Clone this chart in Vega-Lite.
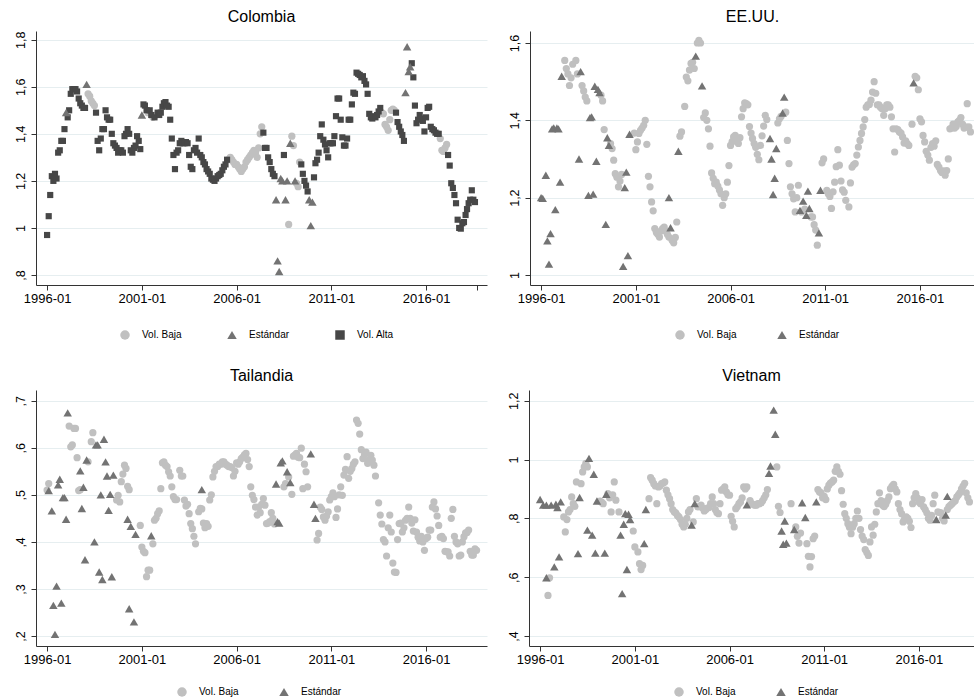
{
"$schema":"https://vega.github.io/schema/vega-lite/v6.json",
"background":"white",
"padding":{"left":14,"top":9,"right":0,"bottom":0},
"config":{
 "view":{"stroke":null},
 "font":"Liberation Sans",
 "title":{"fontSize":16,"fontWeight":"normal","color":"#000000","offset":6,"anchor":"middle","font":"Liberation Sans"},
 "axis":{"domainColor":"#333333","tickColor":"#333333","labelColor":"#000000","labelFont":"Liberation Sans","tickSize":5,"gridColor":"#e6eef0","gridWidth":1},
 "axisX":{"grid":false,"labelFontSize":13,"labelPadding":2,"labelOverlap":false,"labelFlush":false},
 "axisY":{"grid":true,"labelAngle":-90,"labelAlign":"center","labelBaseline":"bottom","labelPadding":4,"labelFontSize":12.5}
},
"datasets":{
"col":[
{"mes":"1996-01","valor":0.97,"tipo":"Vol. Alta"},{"mes":"1996-02","valor":1.05,"tipo":"Vol. Alta"},{"mes":"1996-03","valor":1.14,"tipo":"Vol. Alta"},{"mes":"1996-04","valor":1.22,"tipo":"Vol. Alta"},{"mes":"1996-05","valor":1.20,"tipo":"Vol. Alta"},{"mes":"1996-06","valor":1.23,"tipo":"Vol. Alta"},{"mes":"1996-07","valor":1.21,"tipo":"Vol. Alta"},{"mes":"1996-08","valor":1.32,"tipo":"Vol. Alta"},{"mes":"1996-09","valor":1.33,"tipo":"Vol. Alta"},{"mes":"1996-10","valor":1.37,"tipo":"Vol. Alta"},{"mes":"1996-11","valor":1.37,"tipo":"Vol. Alta"},{"mes":"1996-12","valor":1.42,"tipo":"Vol. Alta"},
{"mes":"1997-01","valor":1.49,"tipo":"Estándar"},{"mes":"1997-02","valor":1.47,"tipo":"Vol. Alta"},{"mes":"1997-03","valor":1.50,"tipo":"Vol. Alta"},{"mes":"1997-04","valor":1.57,"tipo":"Vol. Alta"},{"mes":"1997-05","valor":1.59,"tipo":"Vol. Alta"},{"mes":"1997-06","valor":1.59,"tipo":"Vol. Alta"},{"mes":"1997-07","valor":1.59,"tipo":"Vol. Alta"},{"mes":"1997-08","valor":1.58,"tipo":"Vol. Alta"},{"mes":"1997-09","valor":1.55,"tipo":"Vol. Alta"},{"mes":"1997-10","valor":1.53,"tipo":"Vol. Alta"},{"mes":"1997-11","valor":1.52,"tipo":"Vol. Alta"},{"mes":"1997-12","valor":1.51,"tipo":"Vol. Alta"},
{"mes":"1998-01","valor":1.51,"tipo":"Vol. Alta"},{"mes":"1998-02","valor":1.61,"tipo":"Estándar"},{"mes":"1998-03","valor":1.57,"tipo":"Vol. Baja"},{"mes":"1998-04","valor":1.56,"tipo":"Vol. Baja"},{"mes":"1998-05","valor":1.54,"tipo":"Vol. Baja"},{"mes":"1998-06","valor":1.53,"tipo":"Vol. Baja"},{"mes":"1998-07","valor":1.52,"tipo":"Vol. Baja"},{"mes":"1998-08","valor":1.49,"tipo":"Vol. Alta"},{"mes":"1998-09","valor":1.37,"tipo":"Vol. Alta"},{"mes":"1998-10","valor":1.33,"tipo":"Vol. Alta"},{"mes":"1998-11","valor":1.38,"tipo":"Vol. Alta"},{"mes":"1998-12","valor":1.42,"tipo":"Vol. Alta"},
{"mes":"1999-01","valor":1.42,"tipo":"Vol. Alta"},{"mes":"1999-02","valor":1.50,"tipo":"Vol. Alta"},{"mes":"1999-03","valor":1.47,"tipo":"Vol. Alta"},{"mes":"1999-04","valor":1.46,"tipo":"Vol. Alta"},{"mes":"1999-05","valor":1.46,"tipo":"Vol. Alta"},{"mes":"1999-06","valor":1.40,"tipo":"Vol. Alta"},{"mes":"1999-07","valor":1.36,"tipo":"Vol. Alta"},{"mes":"1999-08","valor":1.35,"tipo":"Vol. Alta"},{"mes":"1999-09","valor":1.34,"tipo":"Vol. Alta"},{"mes":"1999-10","valor":1.32,"tipo":"Vol. Alta"},{"mes":"1999-11","valor":1.33,"tipo":"Vol. Alta"},{"mes":"1999-12","valor":1.33,"tipo":"Vol. Alta"},
{"mes":"2000-01","valor":1.32,"tipo":"Vol. Alta"},{"mes":"2000-02","valor":1.39,"tipo":"Vol. Alta"},{"mes":"2000-03","valor":1.40,"tipo":"Vol. Alta"},{"mes":"2000-04","valor":1.42,"tipo":"Vol. Alta"},{"mes":"2000-05","valor":1.40,"tipo":"Vol. Alta"},{"mes":"2000-06","valor":1.33,"tipo":"Vol. Alta"},{"mes":"2000-07","valor":1.32,"tipo":"Vol. Alta"},{"mes":"2000-08","valor":1.34,"tipo":"Vol. Alta"},{"mes":"2000-09","valor":1.35,"tipo":"Vol. Alta"},{"mes":"2000-10","valor":1.39,"tipo":"Vol. Alta"},{"mes":"2000-11","valor":1.37,"tipo":"Vol. Alta"},{"mes":"2000-12","valor":1.335,"tipo":"Vol. Alta"},
{"mes":"2001-01","valor":1.48,"tipo":"Estándar"},{"mes":"2001-02","valor":1.525,"tipo":"Vol. Alta"},{"mes":"2001-03","valor":1.52,"tipo":"Vol. Alta"},{"mes":"2001-04","valor":1.50,"tipo":"Vol. Alta"},{"mes":"2001-05","valor":1.49,"tipo":"Vol. Baja"},{"mes":"2001-06","valor":1.50,"tipo":"Vol. Alta"},{"mes":"2001-07","valor":1.48,"tipo":"Vol. Alta"},{"mes":"2001-08","valor":1.47,"tipo":"Vol. Baja"},{"mes":"2001-09","valor":1.47,"tipo":"Vol. Alta"},{"mes":"2001-10","valor":1.48,"tipo":"Vol. Baja"},{"mes":"2001-11","valor":1.49,"tipo":"Vol. Alta"},{"mes":"2001-12","valor":1.48,"tipo":"Vol. Alta"},
{"mes":"2002-01","valor":1.49,"tipo":"Vol. Alta"},{"mes":"2002-02","valor":1.515,"tipo":"Vol. Alta"},{"mes":"2002-03","valor":1.53,"tipo":"Vol. Alta"},{"mes":"2002-04","valor":1.535,"tipo":"Vol. Alta"},{"mes":"2002-05","valor":1.52,"tipo":"Vol. Alta"},{"mes":"2002-06","valor":1.515,"tipo":"Vol. Alta"},{"mes":"2002-07","valor":1.46,"tipo":"Vol. Alta"},{"mes":"2002-08","valor":1.38,"tipo":"Vol. Alta"},{"mes":"2002-09","valor":1.31,"tipo":"Vol. Alta"},{"mes":"2002-10","valor":1.25,"tipo":"Vol. Alta"},{"mes":"2002-11","valor":1.32,"tipo":"Vol. Alta"},{"mes":"2002-12","valor":1.33,"tipo":"Vol. Alta"},
{"mes":"2003-01","valor":1.36,"tipo":"Vol. Alta"},{"mes":"2003-02","valor":1.37,"tipo":"Vol. Alta"},{"mes":"2003-03","valor":1.36,"tipo":"Vol. Alta"},{"mes":"2003-04","valor":1.36,"tipo":"Vol. Alta"},{"mes":"2003-05","valor":1.365,"tipo":"Vol. Alta"},{"mes":"2003-06","valor":1.36,"tipo":"Vol. Alta"},{"mes":"2003-07","valor":1.31,"tipo":"Vol. Alta"},{"mes":"2003-08","valor":1.26,"tipo":"Vol. Alta"},{"mes":"2003-09","valor":1.25,"tipo":"Vol. Alta"},{"mes":"2003-10","valor":1.33,"tipo":"Vol. Alta"},{"mes":"2003-11","valor":1.34,"tipo":"Vol. Alta"},{"mes":"2003-12","valor":1.32,"tipo":"Vol. Alta"},
{"mes":"2004-01","valor":1.38,"tipo":"Vol. Alta"},{"mes":"2004-02","valor":1.31,"tipo":"Vol. Alta"},{"mes":"2004-03","valor":1.30,"tipo":"Vol. Alta"},{"mes":"2004-04","valor":1.28,"tipo":"Vol. Alta"},{"mes":"2004-05","valor":1.27,"tipo":"Vol. Alta"},{"mes":"2004-06","valor":1.25,"tipo":"Vol. Alta"},{"mes":"2004-07","valor":1.24,"tipo":"Vol. Alta"},{"mes":"2004-08","valor":1.23,"tipo":"Vol. Alta"},{"mes":"2004-09","valor":1.21,"tipo":"Vol. Alta"},{"mes":"2004-10","valor":1.205,"tipo":"Vol. Alta"},{"mes":"2004-11","valor":1.20,"tipo":"Vol. Alta"},{"mes":"2004-12","valor":1.21,"tipo":"Vol. Alta"},
{"mes":"2005-01","valor":1.22,"tipo":"Vol. Alta"},{"mes":"2005-02","valor":1.225,"tipo":"Vol. Alta"},{"mes":"2005-03","valor":1.23,"tipo":"Vol. Alta"},{"mes":"2005-04","valor":1.245,"tipo":"Vol. Alta"},{"mes":"2005-05","valor":1.26,"tipo":"Vol. Alta"},{"mes":"2005-06","valor":1.27,"tipo":"Vol. Alta"},{"mes":"2005-07","valor":1.29,"tipo":"Vol. Alta"},{"mes":"2005-08","valor":1.29,"tipo":"Vol. Baja"},{"mes":"2005-09","valor":1.30,"tipo":"Vol. Baja"},{"mes":"2005-10","valor":1.29,"tipo":"Vol. Baja"},{"mes":"2005-11","valor":1.28,"tipo":"Vol. Baja"},{"mes":"2005-12","valor":1.27,"tipo":"Vol. Baja"},
{"mes":"2006-01","valor":1.27,"tipo":"Vol. Baja"},{"mes":"2006-02","valor":1.26,"tipo":"Vol. Baja"},{"mes":"2006-03","valor":1.25,"tipo":"Vol. Baja"},{"mes":"2006-04","valor":1.24,"tipo":"Vol. Baja"},{"mes":"2006-05","valor":1.25,"tipo":"Vol. Baja"},{"mes":"2006-06","valor":1.26,"tipo":"Vol. Baja"},{"mes":"2006-07","valor":1.28,"tipo":"Vol. Baja"},{"mes":"2006-08","valor":1.29,"tipo":"Vol. Baja"},{"mes":"2006-09","valor":1.30,"tipo":"Vol. Baja"},{"mes":"2006-10","valor":1.31,"tipo":"Vol. Baja"},{"mes":"2006-11","valor":1.32,"tipo":"Vol. Baja"},{"mes":"2006-12","valor":1.33,"tipo":"Vol. Baja"},
{"mes":"2007-01","valor":1.32,"tipo":"Vol. Baja"},{"mes":"2007-02","valor":1.30,"tipo":"Vol. Baja"},{"mes":"2007-03","valor":1.34,"tipo":"Vol. Baja"},{"mes":"2007-04","valor":1.40,"tipo":"Vol. Baja"},{"mes":"2007-05","valor":1.43,"tipo":"Vol. Baja"},{"mes":"2007-06","valor":1.405,"tipo":"Vol. Alta"},{"mes":"2007-07","valor":1.34,"tipo":"Vol. Alta"},{"mes":"2007-08","valor":1.34,"tipo":"Vol. Alta"},{"mes":"2007-09","valor":1.30,"tipo":"Vol. Alta"},{"mes":"2007-10","valor":1.28,"tipo":"Vol. Alta"},{"mes":"2007-11","valor":1.25,"tipo":"Vol. Alta"},{"mes":"2007-12","valor":1.23,"tipo":"Vol. Alta"},
{"mes":"2008-01","valor":1.22,"tipo":"Vol. Alta"},{"mes":"2008-02","valor":1.12,"tipo":"Estándar"},{"mes":"2008-03","valor":0.86,"tipo":"Estándar"},{"mes":"2008-04","valor":0.815,"tipo":"Estándar"},{"mes":"2008-05","valor":1.21,"tipo":"Estándar"},{"mes":"2008-06","valor":1.20,"tipo":"Estándar"},{"mes":"2008-07","valor":1.31,"tipo":"Vol. Alta"},{"mes":"2008-08","valor":1.12,"tipo":"Estándar"},{"mes":"2008-09","valor":1.20,"tipo":"Estándar"},{"mes":"2008-10","valor":1.015,"tipo":"Vol. Baja"},{"mes":"2008-11","valor":1.36,"tipo":"Estándar"},{"mes":"2008-12","valor":1.39,"tipo":"Vol. Baja"},
{"mes":"2009-01","valor":1.35,"tipo":"Vol. Baja"},{"mes":"2009-02","valor":1.20,"tipo":"Estándar"},{"mes":"2009-03","valor":1.19,"tipo":"Vol. Baja"},{"mes":"2009-04","valor":1.175,"tipo":"Vol. Baja"},{"mes":"2009-05","valor":1.28,"tipo":"Vol. Baja"},{"mes":"2009-06","valor":1.27,"tipo":"Vol. Alta"},{"mes":"2009-07","valor":1.23,"tipo":"Vol. Alta"},{"mes":"2009-08","valor":1.20,"tipo":"Vol. Alta"},{"mes":"2009-09","valor":1.18,"tipo":"Vol. Alta"},{"mes":"2009-10","valor":1.155,"tipo":"Vol. Alta"},{"mes":"2009-11","valor":1.12,"tipo":"Estándar"},{"mes":"2009-12","valor":1.01,"tipo":"Estándar"},
{"mes":"2010-01","valor":1.11,"tipo":"Estándar"},{"mes":"2010-02","valor":1.215,"tipo":"Vol. Alta"},{"mes":"2010-03","valor":1.275,"tipo":"Vol. Alta"},{"mes":"2010-04","valor":1.29,"tipo":"Vol. Alta"},{"mes":"2010-05","valor":1.32,"tipo":"Vol. Alta"},{"mes":"2010-06","valor":1.39,"tipo":"Vol. Alta"},{"mes":"2010-07","valor":1.44,"tipo":"Vol. Alta"},{"mes":"2010-08","valor":1.375,"tipo":"Vol. Alta"},{"mes":"2010-09","valor":1.355,"tipo":"Vol. Alta"},{"mes":"2010-10","valor":1.33,"tipo":"Vol. Alta"},{"mes":"2010-11","valor":1.30,"tipo":"Vol. Alta"},{"mes":"2010-12","valor":1.36,"tipo":"Vol. Alta"},
{"mes":"2011-01","valor":1.36,"tipo":"Vol. Alta"},{"mes":"2011-02","valor":1.36,"tipo":"Vol. Alta"},{"mes":"2011-03","valor":1.39,"tipo":"Vol. Alta"},{"mes":"2011-04","valor":1.475,"tipo":"Vol. Alta"},{"mes":"2011-05","valor":1.55,"tipo":"Vol. Alta"},{"mes":"2011-06","valor":1.55,"tipo":"Vol. Alta"},{"mes":"2011-07","valor":1.46,"tipo":"Vol. Alta"},{"mes":"2011-08","valor":1.385,"tipo":"Vol. Alta"},{"mes":"2011-09","valor":1.35,"tipo":"Vol. Alta"},{"mes":"2011-10","valor":1.35,"tipo":"Vol. Alta"},{"mes":"2011-11","valor":1.38,"tipo":"Vol. Alta"},{"mes":"2011-12","valor":1.46,"tipo":"Vol. Alta"},
{"mes":"2012-01","valor":1.46,"tipo":"Vol. Alta"},{"mes":"2012-02","valor":1.525,"tipo":"Vol. Alta"},{"mes":"2012-03","valor":1.575,"tipo":"Vol. Alta"},{"mes":"2012-04","valor":1.57,"tipo":"Vol. Alta"},{"mes":"2012-05","valor":1.66,"tipo":"Vol. Alta"},{"mes":"2012-06","valor":1.655,"tipo":"Vol. Alta"},{"mes":"2012-07","valor":1.65,"tipo":"Vol. Alta"},{"mes":"2012-08","valor":1.64,"tipo":"Vol. Alta"},{"mes":"2012-09","valor":1.645,"tipo":"Vol. Alta"},{"mes":"2012-10","valor":1.625,"tipo":"Vol. Alta"},{"mes":"2012-11","valor":1.61,"tipo":"Vol. Alta"},{"mes":"2012-12","valor":1.57,"tipo":"Vol. Alta"},
{"mes":"2013-01","valor":1.485,"tipo":"Vol. Alta"},{"mes":"2013-02","valor":1.47,"tipo":"Vol. Alta"},{"mes":"2013-03","valor":1.465,"tipo":"Vol. Alta"},{"mes":"2013-04","valor":1.475,"tipo":"Vol. Alta"},{"mes":"2013-05","valor":1.47,"tipo":"Vol. Alta"},{"mes":"2013-06","valor":1.48,"tipo":"Vol. Alta"},{"mes":"2013-07","valor":1.495,"tipo":"Vol. Alta"},{"mes":"2013-08","valor":1.51,"tipo":"Vol. Alta"},{"mes":"2013-09","valor":1.49,"tipo":"Vol. Baja"},{"mes":"2013-10","valor":1.485,"tipo":"Vol. Baja"},{"mes":"2013-11","valor":1.44,"tipo":"Vol. Baja"},{"mes":"2013-12","valor":1.43,"tipo":"Vol. Baja"},
{"mes":"2014-01","valor":1.415,"tipo":"Vol. Baja"},{"mes":"2014-02","valor":1.46,"tipo":"Vol. Baja"},{"mes":"2014-03","valor":1.50,"tipo":"Vol. Baja"},{"mes":"2014-04","valor":1.505,"tipo":"Vol. Baja"},{"mes":"2014-05","valor":1.50,"tipo":"Vol. Baja"},{"mes":"2014-06","valor":1.49,"tipo":"Vol. Alta"},{"mes":"2014-07","valor":1.45,"tipo":"Vol. Alta"},{"mes":"2014-08","valor":1.43,"tipo":"Vol. Alta"},{"mes":"2014-09","valor":1.41,"tipo":"Vol. Alta"},{"mes":"2014-10","valor":1.395,"tipo":"Vol. Alta"},{"mes":"2014-11","valor":1.37,"tipo":"Vol. Alta"},{"mes":"2014-12","valor":1.575,"tipo":"Estándar"},
{"mes":"2015-01","valor":1.77,"tipo":"Estándar"},{"mes":"2015-02","valor":1.665,"tipo":"Estándar"},{"mes":"2015-03","valor":1.685,"tipo":"Estándar"},{"mes":"2015-04","valor":1.70,"tipo":"Vol. Alta"},{"mes":"2015-05","valor":1.64,"tipo":"Vol. Alta"},{"mes":"2015-06","valor":1.52,"tipo":"Vol. Alta"},{"mes":"2015-07","valor":1.445,"tipo":"Vol. Alta"},{"mes":"2015-08","valor":1.46,"tipo":"Vol. Alta"},{"mes":"2015-09","valor":1.48,"tipo":"Vol. Alta"},{"mes":"2015-10","valor":1.465,"tipo":"Vol. Alta"},{"mes":"2015-11","valor":1.455,"tipo":"Vol. Alta"},{"mes":"2015-12","valor":1.41,"tipo":"Vol. Alta"},
{"mes":"2016-01","valor":1.47,"tipo":"Vol. Alta"},{"mes":"2016-02","valor":1.51,"tipo":"Vol. Alta"},{"mes":"2016-03","valor":1.515,"tipo":"Vol. Alta"},{"mes":"2016-04","valor":1.43,"tipo":"Vol. Alta"},{"mes":"2016-05","valor":1.42,"tipo":"Vol. Alta"},{"mes":"2016-06","valor":1.415,"tipo":"Vol. Alta"},{"mes":"2016-07","valor":1.405,"tipo":"Vol. Alta"},{"mes":"2016-08","valor":1.40,"tipo":"Vol. Alta"},{"mes":"2016-09","valor":1.40,"tipo":"Vol. Alta"},{"mes":"2016-10","valor":1.38,"tipo":"Vol. Baja"},{"mes":"2016-11","valor":1.33,"tipo":"Vol. Baja"},{"mes":"2016-12","valor":1.325,"tipo":"Vol. Baja"},
{"mes":"2017-01","valor":1.34,"tipo":"Vol. Baja"},{"mes":"2017-02","valor":1.355,"tipo":"Vol. Baja"},{"mes":"2017-03","valor":1.31,"tipo":"Vol. Alta"},{"mes":"2017-04","valor":1.265,"tipo":"Vol. Alta"},{"mes":"2017-05","valor":1.19,"tipo":"Vol. Alta"},{"mes":"2017-06","valor":1.17,"tipo":"Vol. Alta"},{"mes":"2017-07","valor":1.14,"tipo":"Vol. Alta"},{"mes":"2017-08","valor":1.105,"tipo":"Vol. Alta"},{"mes":"2017-09","valor":1.035,"tipo":"Vol. Alta"},{"mes":"2017-10","valor":1.00,"tipo":"Vol. Alta"},{"mes":"2017-11","valor":0.997,"tipo":"Vol. Alta"},{"mes":"2017-12","valor":1.02,"tipo":"Vol. Alta"},
{"mes":"2018-01","valor":1.025,"tipo":"Vol. Alta"},{"mes":"2018-02","valor":1.055,"tipo":"Vol. Alta"},{"mes":"2018-03","valor":1.08,"tipo":"Vol. Alta"},{"mes":"2018-04","valor":1.105,"tipo":"Vol. Alta"},{"mes":"2018-05","valor":1.12,"tipo":"Vol. Alta"},{"mes":"2018-06","valor":1.16,"tipo":"Vol. Alta"},{"mes":"2018-07","valor":1.12,"tipo":"Vol. Alta"},{"mes":"2018-08","valor":1.11,"tipo":"Vol. Alta"}
],
"usa":[
{"mes":"1996-01","valor":1.20,"tipo":"Estándar"},{"mes":"1996-02","valor":1.198,"tipo":"Estándar"},{"mes":"1996-04","valor":1.258,"tipo":"Estándar"},{"mes":"1996-05","valor":1.088,"tipo":"Estándar"},{"mes":"1996-06","valor":1.028,"tipo":"Estándar"},{"mes":"1996-07","valor":1.107,"tipo":"Estándar"},{"mes":"1996-08","valor":1.378,"tipo":"Estándar"},{"mes":"1996-09","valor":1.38,"tipo":"Estándar"},{"mes":"1996-10","valor":1.169,"tipo":"Estándar"},{"mes":"1996-11","valor":1.38,"tipo":"Estándar"},{"mes":"1996-12","valor":1.378,"tipo":"Estándar"},
{"mes":"1997-01","valor":1.24,"tipo":"Estándar"},{"mes":"1997-02","valor":1.514,"tipo":"Estándar"},{"mes":"1997-04","valor":1.555,"tipo":"Vol. Baja"},{"mes":"1997-05","valor":1.534,"tipo":"Vol. Baja"},{"mes":"1997-06","valor":1.52,"tipo":"Vol. Baja"},{"mes":"1997-07","valor":1.49,"tipo":"Vol. Baja"},{"mes":"1997-08","valor":1.51,"tipo":"Vol. Baja"},{"mes":"1997-09","valor":1.545,"tipo":"Vol. Baja"},{"mes":"1997-11","valor":1.555,"tipo":"Vol. Baja"},{"mes":"1997-12","valor":1.52,"tipo":"Vol. Baja"},
{"mes":"1998-01","valor":1.30,"tipo":"Estándar"},{"mes":"1998-02","valor":1.526,"tipo":"Estándar"},{"mes":"1998-03","valor":1.49,"tipo":"Vol. Baja"},{"mes":"1998-04","valor":1.476,"tipo":"Vol. Baja"},{"mes":"1998-05","valor":1.46,"tipo":"Vol. Baja"},{"mes":"1998-06","valor":1.45,"tipo":"Vol. Baja"},{"mes":"1998-07","valor":1.206,"tipo":"Estándar"},{"mes":"1998-08","valor":1.407,"tipo":"Estándar"},{"mes":"1998-09","valor":1.409,"tipo":"Estándar"},{"mes":"1998-10","valor":1.209,"tipo":"Estándar"},{"mes":"1998-11","valor":1.488,"tipo":"Estándar"},{"mes":"1998-12","valor":1.294,"tipo":"Estándar"},
{"mes":"1999-01","valor":1.48,"tipo":"Estándar"},{"mes":"1999-02","valor":1.472,"tipo":"Estándar"},{"mes":"1999-03","valor":1.465,"tipo":"Vol. Baja"},{"mes":"1999-04","valor":1.45,"tipo":"Vol. Baja"},{"mes":"1999-05","valor":1.376,"tipo":"Vol. Baja"},{"mes":"1999-06","valor":1.131,"tipo":"Estándar"},{"mes":"1999-07","valor":1.355,"tipo":"Estándar"},{"mes":"1999-08","valor":1.335,"tipo":"Estándar"},{"mes":"1999-09","valor":1.34,"tipo":"Vol. Baja"},{"mes":"1999-10","valor":1.327,"tipo":"Vol. Baja"},{"mes":"1999-11","valor":1.297,"tipo":"Vol. Baja"},{"mes":"1999-12","valor":1.262,"tipo":"Vol. Baja"},
{"mes":"2000-01","valor":1.253,"tipo":"Vol. Baja"},{"mes":"2000-02","valor":1.228,"tipo":"Vol. Baja"},{"mes":"2000-03","valor":1.243,"tipo":"Vol. Baja"},{"mes":"2000-04","valor":1.26,"tipo":"Vol. Baja"},{"mes":"2000-05","valor":1.022,"tipo":"Estándar"},{"mes":"2000-06","valor":1.226,"tipo":"Estándar"},{"mes":"2000-07","valor":1.266,"tipo":"Estándar"},{"mes":"2000-08","valor":1.05,"tipo":"Estándar"},{"mes":"2000-09","valor":1.364,"tipo":"Estándar"},{"mes":"2000-12","valor":1.367,"tipo":"Vol. Baja"},
{"mes":"2001-01","valor":1.324,"tipo":"Vol. Baja"},{"mes":"2001-02","valor":1.344,"tipo":"Vol. Baja"},{"mes":"2001-03","valor":1.366,"tipo":"Vol. Baja"},{"mes":"2001-04","valor":1.374,"tipo":"Vol. Baja"},{"mes":"2001-05","valor":1.38,"tipo":"Vol. Baja"},{"mes":"2001-06","valor":1.387,"tipo":"Vol. Baja"},{"mes":"2001-07","valor":1.40,"tipo":"Vol. Baja"},{"mes":"2001-08","valor":1.338,"tipo":"Vol. Baja"},{"mes":"2001-09","valor":1.255,"tipo":"Vol. Baja"},{"mes":"2001-10","valor":1.228,"tipo":"Vol. Baja"},{"mes":"2001-11","valor":1.189,"tipo":"Vol. Baja"},{"mes":"2001-12","valor":1.166,"tipo":"Vol. Baja"},
{"mes":"2002-01","valor":1.12,"tipo":"Vol. Baja"},{"mes":"2002-02","valor":1.11,"tipo":"Vol. Baja"},{"mes":"2002-03","valor":1.105,"tipo":"Vol. Baja"},{"mes":"2002-04","valor":1.098,"tipo":"Vol. Baja"},{"mes":"2002-05","valor":1.114,"tipo":"Vol. Baja"},{"mes":"2002-06","valor":1.12,"tipo":"Vol. Baja"},{"mes":"2002-07","valor":1.124,"tipo":"Vol. Baja"},{"mes":"2002-08","valor":1.114,"tipo":"Vol. Baja"},{"mes":"2002-09","valor":1.105,"tipo":"Vol. Baja"},{"mes":"2002-10","valor":1.20,"tipo":"Estándar"},{"mes":"2002-10","valor":1.098,"tipo":"Vol. Baja"},{"mes":"2002-11","valor":1.122,"tipo":"Estándar"},{"mes":"2002-12","valor":1.09,"tipo":"Vol. Baja"},
{"mes":"2003-01","valor":1.083,"tipo":"Vol. Baja"},{"mes":"2003-02","valor":1.097,"tipo":"Vol. Baja"},{"mes":"2003-03","valor":1.137,"tipo":"Vol. Baja"},{"mes":"2003-04","valor":1.32,"tipo":"Estándar"},{"mes":"2003-05","valor":1.359,"tipo":"Vol. Baja"},{"mes":"2003-06","valor":1.37,"tipo":"Vol. Baja"},{"mes":"2003-08","valor":1.436,"tipo":"Vol. Baja"},{"mes":"2003-09","valor":1.512,"tipo":"Vol. Baja"},{"mes":"2003-10","valor":1.502,"tipo":"Vol. Baja"},{"mes":"2003-11","valor":1.53,"tipo":"Vol. Baja"},{"mes":"2003-12","valor":1.547,"tipo":"Vol. Baja"},
{"mes":"2004-01","valor":1.55,"tipo":"Vol. Baja"},{"mes":"2004-02","valor":1.534,"tipo":"Vol. Baja"},{"mes":"2004-03","valor":1.566,"tipo":"Estándar"},{"mes":"2004-04","valor":1.60,"tipo":"Vol. Baja"},{"mes":"2004-05","valor":1.607,"tipo":"Vol. Baja"},{"mes":"2004-06","valor":1.60,"tipo":"Vol. Baja"},{"mes":"2004-07","valor":1.489,"tipo":"Estándar"},{"mes":"2004-08","valor":1.407,"tipo":"Vol. Baja"},{"mes":"2004-09","valor":1.419,"tipo":"Vol. Baja"},{"mes":"2004-10","valor":1.40,"tipo":"Vol. Baja"},{"mes":"2004-11","valor":1.378,"tipo":"Vol. Baja"},{"mes":"2004-12","valor":1.333,"tipo":"Vol. Baja"},
{"mes":"2005-01","valor":1.264,"tipo":"Vol. Baja"},{"mes":"2005-02","valor":1.25,"tipo":"Vol. Baja"},{"mes":"2005-03","valor":1.236,"tipo":"Vol. Baja"},{"mes":"2005-04","valor":1.24,"tipo":"Vol. Baja"},{"mes":"2005-05","valor":1.23,"tipo":"Vol. Baja"},{"mes":"2005-06","valor":1.22,"tipo":"Vol. Baja"},{"mes":"2005-07","valor":1.21,"tipo":"Vol. Baja"},{"mes":"2005-08","valor":1.18,"tipo":"Vol. Baja"},{"mes":"2005-09","valor":1.20,"tipo":"Vol. Baja"},{"mes":"2005-10","valor":1.21,"tipo":"Vol. Baja"},{"mes":"2005-11","valor":1.24,"tipo":"Vol. Baja"},{"mes":"2005-12","valor":1.283,"tipo":"Vol. Baja"},
{"mes":"2006-01","valor":1.335,"tipo":"Vol. Baja"},{"mes":"2006-02","valor":1.345,"tipo":"Vol. Baja"},{"mes":"2006-03","valor":1.357,"tipo":"Vol. Baja"},{"mes":"2006-04","valor":1.361,"tipo":"Vol. Baja"},{"mes":"2006-05","valor":1.345,"tipo":"Vol. Baja"},{"mes":"2006-06","valor":1.34,"tipo":"Vol. Baja"},{"mes":"2006-07","valor":1.355,"tipo":"Vol. Baja"},{"mes":"2006-08","valor":1.409,"tipo":"Vol. Baja"},{"mes":"2006-09","valor":1.43,"tipo":"Vol. Baja"},{"mes":"2006-10","valor":1.445,"tipo":"Vol. Baja"},{"mes":"2006-11","valor":1.443,"tipo":"Vol. Baja"},{"mes":"2006-12","valor":1.44,"tipo":"Vol. Baja"},
{"mes":"2007-01","valor":1.384,"tipo":"Vol. Baja"},{"mes":"2007-02","valor":1.367,"tipo":"Vol. Baja"},{"mes":"2007-03","valor":1.353,"tipo":"Vol. Baja"},{"mes":"2007-04","valor":1.34,"tipo":"Vol. Baja"},{"mes":"2007-05","valor":1.33,"tipo":"Vol. Baja"},{"mes":"2007-06","valor":1.312,"tipo":"Vol. Baja"},{"mes":"2007-07","valor":1.298,"tipo":"Vol. Baja"},{"mes":"2007-08","valor":1.335,"tipo":"Vol. Baja"},{"mes":"2007-09","valor":1.36,"tipo":"Vol. Baja"},{"mes":"2007-10","valor":1.385,"tipo":"Vol. Baja"},{"mes":"2007-11","valor":1.413,"tipo":"Vol. Baja"},{"mes":"2007-12","valor":1.402,"tipo":"Vol. Baja"},
{"mes":"2008-02","valor":1.353,"tipo":"Estándar"},{"mes":"2008-03","valor":1.30,"tipo":"Estándar"},{"mes":"2008-04","valor":1.208,"tipo":"Estándar"},{"mes":"2008-05","valor":1.25,"tipo":"Estándar"},{"mes":"2008-06","valor":1.327,"tipo":"Estándar"},{"mes":"2008-07","valor":1.393,"tipo":"Vol. Baja"},{"mes":"2008-08","valor":1.404,"tipo":"Vol. Baja"},{"mes":"2008-09","valor":1.41,"tipo":"Vol. Baja"},{"mes":"2008-10","valor":1.419,"tipo":"Estándar"},{"mes":"2008-11","valor":1.46,"tipo":"Estándar"},{"mes":"2008-12","valor":1.421,"tipo":"Vol. Baja"},
{"mes":"2009-01","valor":1.348,"tipo":"Vol. Baja"},{"mes":"2009-02","valor":1.288,"tipo":"Vol. Baja"},{"mes":"2009-03","valor":1.228,"tipo":"Vol. Baja"},{"mes":"2009-04","valor":1.21,"tipo":"Vol. Baja"},{"mes":"2009-05","valor":1.197,"tipo":"Vol. Baja"},{"mes":"2009-06","valor":1.163,"tipo":"Vol. Baja"},{"mes":"2009-07","valor":1.20,"tipo":"Vol. Baja"},{"mes":"2009-08","valor":1.232,"tipo":"Vol. Baja"},{"mes":"2009-09","valor":1.167,"tipo":"Estándar"},{"mes":"2009-10","valor":1.163,"tipo":"Vol. Baja"},{"mes":"2009-11","valor":1.191,"tipo":"Estándar"},{"mes":"2009-12","valor":1.17,"tipo":"Vol. Baja"},
{"mes":"2010-01","valor":1.154,"tipo":"Estándar"},{"mes":"2010-02","valor":1.217,"tipo":"Estándar"},{"mes":"2010-03","valor":1.172,"tipo":"Estándar"},{"mes":"2010-04","valor":1.15,"tipo":"Vol. Baja"},{"mes":"2010-05","valor":1.15,"tipo":"Vol. Baja"},{"mes":"2010-06","valor":1.13,"tipo":"Vol. Baja"},{"mes":"2010-07","valor":1.116,"tipo":"Vol. Baja"},{"mes":"2010-08","valor":1.077,"tipo":"Vol. Baja"},{"mes":"2010-09","valor":1.109,"tipo":"Estándar"},{"mes":"2010-10","valor":1.219,"tipo":"Estándar"},{"mes":"2010-11","valor":1.29,"tipo":"Vol. Baja"},{"mes":"2010-12","valor":1.30,"tipo":"Vol. Baja"},
{"mes":"2011-02","valor":1.219,"tipo":"Vol. Baja"},{"mes":"2011-03","valor":1.21,"tipo":"Vol. Baja"},{"mes":"2011-04","valor":1.203,"tipo":"Vol. Baja"},{"mes":"2011-05","valor":1.172,"tipo":"Vol. Baja"},{"mes":"2011-06","valor":1.215,"tipo":"Vol. Baja"},{"mes":"2011-07","valor":1.24,"tipo":"Vol. Baja"},{"mes":"2011-08","valor":1.28,"tipo":"Vol. Baja"},{"mes":"2011-09","valor":1.324,"tipo":"Vol. Baja"},{"mes":"2011-10","valor":1.284,"tipo":"Vol. Baja"},{"mes":"2011-11","valor":1.243,"tipo":"Vol. Baja"},{"mes":"2011-12","valor":1.22,"tipo":"Vol. Baja"},
{"mes":"2012-01","valor":1.214,"tipo":"Vol. Baja"},{"mes":"2012-02","valor":1.193,"tipo":"Vol. Baja"},{"mes":"2012-04","valor":1.176,"tipo":"Vol. Baja"},{"mes":"2012-05","valor":1.238,"tipo":"Vol. Baja"},{"mes":"2012-06","valor":1.279,"tipo":"Vol. Baja"},{"mes":"2012-07","valor":1.285,"tipo":"Vol. Baja"},{"mes":"2012-08","valor":1.288,"tipo":"Vol. Baja"},{"mes":"2012-09","valor":1.31,"tipo":"Vol. Baja"},{"mes":"2012-10","valor":1.331,"tipo":"Vol. Baja"},{"mes":"2012-11","valor":1.348,"tipo":"Vol. Baja"},{"mes":"2012-12","valor":1.366,"tipo":"Vol. Baja"},
{"mes":"2013-01","valor":1.383,"tipo":"Vol. Baja"},{"mes":"2013-02","valor":1.402,"tipo":"Vol. Baja"},{"mes":"2013-03","valor":1.434,"tipo":"Vol. Baja"},{"mes":"2013-04","valor":1.44,"tipo":"Vol. Baja"},{"mes":"2013-05","valor":1.441,"tipo":"Vol. Baja"},{"mes":"2013-06","valor":1.452,"tipo":"Vol. Baja"},{"mes":"2013-07","valor":1.473,"tipo":"Vol. Baja"},{"mes":"2013-08","valor":1.50,"tipo":"Vol. Baja"},{"mes":"2013-09","valor":1.47,"tipo":"Vol. Baja"},{"mes":"2013-10","valor":1.44,"tipo":"Vol. Baja"},{"mes":"2013-11","valor":1.44,"tipo":"Vol. Baja"},{"mes":"2013-12","valor":1.434,"tipo":"Vol. Baja"},
{"mes":"2014-01","valor":1.43,"tipo":"Vol. Baja"},{"mes":"2014-02","valor":1.413,"tipo":"Vol. Baja"},{"mes":"2014-03","valor":1.43,"tipo":"Vol. Baja"},{"mes":"2014-04","valor":1.44,"tipo":"Vol. Baja"},{"mes":"2014-05","valor":1.44,"tipo":"Vol. Baja"},{"mes":"2014-06","valor":1.434,"tipo":"Vol. Baja"},{"mes":"2014-07","valor":1.409,"tipo":"Vol. Baja"},{"mes":"2014-08","valor":1.378,"tipo":"Vol. Baja"},{"mes":"2014-09","valor":1.318,"tipo":"Vol. Baja"},{"mes":"2014-10","valor":1.378,"tipo":"Vol. Baja"},{"mes":"2014-11","valor":1.376,"tipo":"Vol. Baja"},{"mes":"2014-12","valor":1.37,"tipo":"Vol. Baja"},
{"mes":"2015-01","valor":1.367,"tipo":"Vol. Baja"},{"mes":"2015-02","valor":1.357,"tipo":"Vol. Baja"},{"mes":"2015-03","valor":1.341,"tipo":"Vol. Baja"},{"mes":"2015-04","valor":1.347,"tipo":"Vol. Baja"},{"mes":"2015-05","valor":1.34,"tipo":"Vol. Baja"},{"mes":"2015-06","valor":1.335,"tipo":"Vol. Baja"},{"mes":"2015-08","valor":1.39,"tipo":"Vol. Baja"},{"mes":"2015-09","valor":1.497,"tipo":"Estándar"},{"mes":"2015-10","valor":1.514,"tipo":"Vol. Baja"},{"mes":"2015-11","valor":1.51,"tipo":"Vol. Baja"},{"mes":"2015-12","valor":1.479,"tipo":"Vol. Baja"},
{"mes":"2016-01","valor":1.404,"tipo":"Vol. Baja"},{"mes":"2016-02","valor":1.396,"tipo":"Vol. Baja"},{"mes":"2016-03","valor":1.361,"tipo":"Vol. Baja"},{"mes":"2016-04","valor":1.344,"tipo":"Vol. Baja"},{"mes":"2016-05","valor":1.32,"tipo":"Vol. Baja"},{"mes":"2016-06","valor":1.31,"tipo":"Vol. Baja"},{"mes":"2016-07","valor":1.297,"tipo":"Vol. Baja"},{"mes":"2016-08","valor":1.33,"tipo":"Vol. Baja"},{"mes":"2016-09","valor":1.34,"tipo":"Vol. Baja"},{"mes":"2016-10","valor":1.333,"tipo":"Vol. Baja"},{"mes":"2016-11","valor":1.347,"tipo":"Vol. Baja"},{"mes":"2016-12","valor":1.286,"tipo":"Vol. Baja"},
{"mes":"2017-01","valor":1.279,"tipo":"Vol. Baja"},{"mes":"2017-02","valor":1.27,"tipo":"Vol. Baja"},{"mes":"2017-03","valor":1.265,"tipo":"Vol. Baja"},{"mes":"2017-04","valor":1.269,"tipo":"Vol. Baja"},{"mes":"2017-05","valor":1.258,"tipo":"Vol. Baja"},{"mes":"2017-06","valor":1.27,"tipo":"Vol. Baja"},{"mes":"2017-07","valor":1.30,"tipo":"Vol. Baja"},{"mes":"2017-08","valor":1.378,"tipo":"Vol. Baja"},{"mes":"2017-09","valor":1.38,"tipo":"Vol. Baja"},{"mes":"2017-10","valor":1.39,"tipo":"Vol. Baja"},{"mes":"2017-11","valor":1.38,"tipo":"Vol. Baja"},{"mes":"2017-12","valor":1.384,"tipo":"Vol. Baja"},
{"mes":"2018-01","valor":1.396,"tipo":"Vol. Baja"},{"mes":"2018-02","valor":1.40,"tipo":"Vol. Baja"},{"mes":"2018-03","valor":1.407,"tipo":"Vol. Baja"},{"mes":"2018-04","valor":1.39,"tipo":"Vol. Baja"},{"mes":"2018-05","valor":1.38,"tipo":"Vol. Baja"},{"mes":"2018-06","valor":1.383,"tipo":"Vol. Baja"},{"mes":"2018-07","valor":1.443,"tipo":"Vol. Baja"},{"mes":"2018-08","valor":1.383,"tipo":"Vol. Baja"},{"mes":"2018-09","valor":1.37,"tipo":"Vol. Baja"}
],
"tha":[
{"mes":"1996-01","valor":0.51,"tipo":"Vol. Baja"},{"mes":"1996-02","valor":0.524,"tipo":"Vol. Baja"},{"mes":"1996-02","valor":0.509,"tipo":"Estándar"},{"mes":"1996-04","valor":0.466,"tipo":"Estándar"},{"mes":"1996-05","valor":0.265,"tipo":"Estándar"},{"mes":"1996-06","valor":0.2035,"tipo":"Estándar"},{"mes":"1996-07","valor":0.306,"tipo":"Estándar"},{"mes":"1996-08","valor":0.521,"tipo":"Estándar"},{"mes":"1996-09","valor":0.533,"tipo":"Estándar"},{"mes":"1996-10","valor":0.27,"tipo":"Estándar"},{"mes":"1996-11","valor":0.494,"tipo":"Estándar"},{"mes":"1996-12","valor":0.494,"tipo":"Estándar"},
{"mes":"1997-01","valor":0.448,"tipo":"Estándar"},{"mes":"1997-02","valor":0.674,"tipo":"Estándar"},{"mes":"1997-03","valor":0.646,"tipo":"Vol. Baja"},{"mes":"1997-04","valor":0.602,"tipo":"Vol. Baja"},{"mes":"1997-05","valor":0.606,"tipo":"Vol. Baja"},{"mes":"1997-06","valor":0.641,"tipo":"Vol. Baja"},{"mes":"1997-07","valor":0.641,"tipo":"Vol. Baja"},{"mes":"1997-08","valor":0.579,"tipo":"Vol. Baja"},{"mes":"1997-09","valor":0.509,"tipo":"Vol. Baja"},{"mes":"1997-10","valor":0.511,"tipo":"Vol. Baja"},{"mes":"1997-10","valor":0.551,"tipo":"Estándar"},{"mes":"1997-11","valor":0.471,"tipo":"Estándar"},{"mes":"1997-12","valor":0.516,"tipo":"Estándar"},
{"mes":"1998-01","valor":0.362,"tipo":"Estándar"},{"mes":"1998-02","valor":0.574,"tipo":"Estándar"},{"mes":"1998-03","valor":0.57,"tipo":"Vol. Baja"},{"mes":"1998-05","valor":0.613,"tipo":"Vol. Baja"},{"mes":"1998-06","valor":0.632,"tipo":"Vol. Baja"},{"mes":"1998-07","valor":0.40,"tipo":"Estándar"},{"mes":"1998-08","valor":0.606,"tipo":"Estándar"},{"mes":"1998-09","valor":0.606,"tipo":"Estándar"},{"mes":"1998-10","valor":0.336,"tipo":"Estándar"},{"mes":"1998-11","valor":0.50,"tipo":"Estándar"},{"mes":"1998-12","valor":0.32,"tipo":"Estándar"},
{"mes":"1999-01","valor":0.618,"tipo":"Estándar"},{"mes":"1999-02","valor":0.57,"tipo":"Estándar"},{"mes":"1999-03","valor":0.54,"tipo":"Estándar"},{"mes":"1999-04","valor":0.467,"tipo":"Estándar"},{"mes":"1999-05","valor":0.501,"tipo":"Estándar"},{"mes":"1999-06","valor":0.326,"tipo":"Estándar"},{"mes":"1999-07","valor":0.542,"tipo":"Estándar"},{"mes":"1999-09","valor":0.489,"tipo":"Vol. Baja"},{"mes":"1999-10","valor":0.499,"tipo":"Vol. Baja"},{"mes":"1999-11","valor":0.485,"tipo":"Vol. Baja"},{"mes":"1999-12","valor":0.528,"tipo":"Vol. Baja"},
{"mes":"2000-01","valor":0.544,"tipo":"Vol. Baja"},{"mes":"2000-02","valor":0.563,"tipo":"Vol. Baja"},{"mes":"2000-03","valor":0.556,"tipo":"Vol. Baja"},{"mes":"2000-04","valor":0.448,"tipo":"Estándar"},{"mes":"2000-04","valor":0.518,"tipo":"Vol. Baja"},{"mes":"2000-05","valor":0.258,"tipo":"Estándar"},{"mes":"2000-05","valor":0.511,"tipo":"Vol. Baja"},{"mes":"2000-06","valor":0.433,"tipo":"Estándar"},{"mes":"2000-08","valor":0.23,"tipo":"Estándar"},{"mes":"2000-09","valor":0.416,"tipo":"Estándar"},{"mes":"2000-12","valor":0.435,"tipo":"Vol. Baja"},
{"mes":"2001-01","valor":0.389,"tipo":"Vol. Baja"},{"mes":"2001-02","valor":0.38,"tipo":"Vol. Baja"},{"mes":"2001-03","valor":0.377,"tipo":"Vol. Baja"},{"mes":"2001-04","valor":0.326,"tipo":"Vol. Baja"},{"mes":"2001-05","valor":0.34,"tipo":"Vol. Baja"},{"mes":"2001-06","valor":0.34,"tipo":"Vol. Baja"},{"mes":"2001-07","valor":0.413,"tipo":"Estándar"},{"mes":"2001-08","valor":0.396,"tipo":"Vol. Baja"},{"mes":"2001-09","valor":0.446,"tipo":"Vol. Baja"},{"mes":"2001-10","valor":0.45,"tipo":"Vol. Baja"},{"mes":"2001-11","valor":0.46,"tipo":"Vol. Baja"},{"mes":"2001-12","valor":0.466,"tipo":"Vol. Baja"},
{"mes":"2002-01","valor":0.513,"tipo":"Vol. Baja"},{"mes":"2002-02","valor":0.568,"tipo":"Vol. Baja"},{"mes":"2002-03","valor":0.57,"tipo":"Vol. Baja"},{"mes":"2002-04","valor":0.563,"tipo":"Vol. Baja"},{"mes":"2002-05","valor":0.56,"tipo":"Vol. Baja"},{"mes":"2002-06","valor":0.549,"tipo":"Vol. Baja"},{"mes":"2002-07","valor":0.54,"tipo":"Vol. Baja"},{"mes":"2002-08","valor":0.517,"tipo":"Vol. Baja"},{"mes":"2002-09","valor":0.496,"tipo":"Vol. Baja"},{"mes":"2002-10","valor":0.49,"tipo":"Vol. Baja"},{"mes":"2002-11","valor":0.49,"tipo":"Vol. Baja"},
{"mes":"2003-01","valor":0.552,"tipo":"Vol. Baja"},{"mes":"2003-02","valor":0.54,"tipo":"Vol. Baja"},{"mes":"2003-03","valor":0.54,"tipo":"Vol. Baja"},{"mes":"2003-04","valor":0.489,"tipo":"Vol. Baja"},{"mes":"2003-05","valor":0.476,"tipo":"Vol. Baja"},{"mes":"2003-06","valor":0.48,"tipo":"Vol. Baja"},{"mes":"2003-07","valor":0.46,"tipo":"Vol. Baja"},{"mes":"2003-08","valor":0.439,"tipo":"Vol. Baja"},{"mes":"2003-09","valor":0.428,"tipo":"Vol. Baja"},{"mes":"2003-10","valor":0.412,"tipo":"Vol. Baja"},{"mes":"2003-11","valor":0.396,"tipo":"Vol. Baja"},
{"mes":"2004-01","valor":0.464,"tipo":"Vol. Baja"},{"mes":"2004-02","valor":0.471,"tipo":"Vol. Baja"},{"mes":"2004-03","valor":0.511,"tipo":"Estándar"},{"mes":"2004-03","valor":0.47,"tipo":"Vol. Baja"},{"mes":"2004-04","valor":0.44,"tipo":"Vol. Baja"},{"mes":"2004-05","valor":0.43,"tipo":"Vol. Baja"},{"mes":"2004-06","valor":0.439,"tipo":"Vol. Baja"},{"mes":"2004-07","valor":0.433,"tipo":"Vol. Baja"},{"mes":"2004-08","valor":0.489,"tipo":"Vol. Baja"},{"mes":"2004-09","valor":0.50,"tipo":"Vol. Baja"},{"mes":"2004-10","valor":0.538,"tipo":"Vol. Baja"},{"mes":"2004-11","valor":0.55,"tipo":"Vol. Baja"},{"mes":"2004-12","valor":0.56,"tipo":"Vol. Baja"},
{"mes":"2005-01","valor":0.56,"tipo":"Vol. Baja"},{"mes":"2005-02","valor":0.565,"tipo":"Vol. Baja"},{"mes":"2005-03","valor":0.565,"tipo":"Vol. Baja"},{"mes":"2005-04","valor":0.57,"tipo":"Vol. Baja"},{"mes":"2005-05","valor":0.57,"tipo":"Vol. Baja"},{"mes":"2005-06","valor":0.565,"tipo":"Vol. Baja"},{"mes":"2005-07","valor":0.563,"tipo":"Vol. Baja"},{"mes":"2005-08","valor":0.56,"tipo":"Vol. Baja"},{"mes":"2005-09","valor":0.56,"tipo":"Vol. Baja"},{"mes":"2005-10","valor":0.558,"tipo":"Vol. Baja"},{"mes":"2005-11","valor":0.54,"tipo":"Vol. Baja"},{"mes":"2005-12","valor":0.55,"tipo":"Vol. Baja"},
{"mes":"2006-01","valor":0.568,"tipo":"Vol. Baja"},{"mes":"2006-02","valor":0.565,"tipo":"Vol. Baja"},{"mes":"2006-03","valor":0.57,"tipo":"Vol. Baja"},{"mes":"2006-04","valor":0.577,"tipo":"Vol. Baja"},{"mes":"2006-05","valor":0.58,"tipo":"Vol. Baja"},{"mes":"2006-06","valor":0.585,"tipo":"Vol. Baja"},{"mes":"2006-07","valor":0.588,"tipo":"Vol. Baja"},{"mes":"2006-08","valor":0.575,"tipo":"Vol. Baja"},{"mes":"2006-09","valor":0.56,"tipo":"Vol. Baja"},{"mes":"2006-10","valor":0.517,"tipo":"Vol. Baja"},{"mes":"2006-11","valor":0.499,"tipo":"Vol. Baja"},{"mes":"2006-12","valor":0.49,"tipo":"Vol. Baja"},
{"mes":"2007-01","valor":0.474,"tipo":"Vol. Baja"},{"mes":"2007-02","valor":0.457,"tipo":"Vol. Baja"},{"mes":"2007-03","valor":0.474,"tipo":"Vol. Baja"},{"mes":"2007-04","valor":0.462,"tipo":"Vol. Baja"},{"mes":"2007-05","valor":0.48,"tipo":"Vol. Baja"},{"mes":"2007-06","valor":0.492,"tipo":"Vol. Baja"},{"mes":"2007-07","valor":0.478,"tipo":"Vol. Baja"},{"mes":"2007-08","valor":0.439,"tipo":"Vol. Baja"},{"mes":"2007-09","valor":0.44,"tipo":"Vol. Baja"},{"mes":"2007-10","valor":0.443,"tipo":"Vol. Baja"},{"mes":"2007-11","valor":0.462,"tipo":"Vol. Baja"},{"mes":"2007-12","valor":0.45,"tipo":"Vol. Baja"},
{"mes":"2008-01","valor":0.438,"tipo":"Vol. Baja"},{"mes":"2008-02","valor":0.523,"tipo":"Estándar"},{"mes":"2008-03","valor":0.443,"tipo":"Estándar"},{"mes":"2008-04","valor":0.44,"tipo":"Estándar"},{"mes":"2008-05","valor":0.568,"tipo":"Estándar"},{"mes":"2008-06","valor":0.572,"tipo":"Estándar"},{"mes":"2008-07","valor":0.517,"tipo":"Vol. Baja"},{"mes":"2008-08","valor":0.524,"tipo":"Vol. Baja"},{"mes":"2008-09","valor":0.549,"tipo":"Estándar"},{"mes":"2008-10","valor":0.538,"tipo":"Vol. Baja"},{"mes":"2008-11","valor":0.526,"tipo":"Estándar"},{"mes":"2008-12","valor":0.501,"tipo":"Vol. Baja"},
{"mes":"2009-01","valor":0.582,"tipo":"Vol. Baja"},{"mes":"2009-02","valor":0.585,"tipo":"Vol. Baja"},{"mes":"2009-03","valor":0.588,"tipo":"Vol. Baja"},{"mes":"2009-04","valor":0.58,"tipo":"Vol. Baja"},{"mes":"2009-05","valor":0.579,"tipo":"Vol. Baja"},{"mes":"2009-06","valor":0.599,"tipo":"Vol. Baja"},{"mes":"2009-07","valor":0.513,"tipo":"Vol. Baja"},{"mes":"2009-08","valor":0.565,"tipo":"Vol. Baja"},{"mes":"2009-09","valor":0.549,"tipo":"Vol. Baja"},{"mes":"2009-10","valor":0.517,"tipo":"Vol. Baja"},{"mes":"2009-12","valor":0.587,"tipo":"Estándar"},
{"mes":"2010-02","valor":0.48,"tipo":"Estándar"},{"mes":"2010-03","valor":0.45,"tipo":"Estándar"},{"mes":"2010-04","valor":0.404,"tipo":"Vol. Baja"},{"mes":"2010-05","valor":0.418,"tipo":"Vol. Baja"},{"mes":"2010-06","valor":0.474,"tipo":"Vol. Baja"},{"mes":"2010-07","valor":0.469,"tipo":"Vol. Baja"},{"mes":"2010-08","valor":0.453,"tipo":"Vol. Baja"},{"mes":"2010-09","valor":0.446,"tipo":"Vol. Baja"},{"mes":"2010-10","valor":0.455,"tipo":"Vol. Baja"},{"mes":"2010-11","valor":0.464,"tipo":"Vol. Baja"},{"mes":"2010-12","valor":0.489,"tipo":"Vol. Baja"},
{"mes":"2011-01","valor":0.496,"tipo":"Vol. Baja"},{"mes":"2011-02","valor":0.504,"tipo":"Vol. Baja"},{"mes":"2011-03","valor":0.496,"tipo":"Vol. Baja"},{"mes":"2011-04","valor":0.452,"tipo":"Vol. Baja"},{"mes":"2011-05","valor":0.47,"tipo":"Vol. Baja"},{"mes":"2011-06","valor":0.50,"tipo":"Vol. Baja"},{"mes":"2011-07","valor":0.517,"tipo":"Vol. Baja"},{"mes":"2011-08","valor":0.499,"tipo":"Vol. Baja"},{"mes":"2011-09","valor":0.542,"tipo":"Vol. Baja"},{"mes":"2011-10","valor":0.554,"tipo":"Vol. Baja"},{"mes":"2011-11","valor":0.581,"tipo":"Vol. Baja"},{"mes":"2011-12","valor":0.535,"tipo":"Vol. Baja"},
{"mes":"2012-01","valor":0.55,"tipo":"Vol. Baja"},{"mes":"2012-02","valor":0.556,"tipo":"Vol. Baja"},{"mes":"2012-03","valor":0.565,"tipo":"Vol. Baja"},{"mes":"2012-04","valor":0.57,"tipo":"Vol. Baja"},{"mes":"2012-05","valor":0.659,"tipo":"Vol. Baja"},{"mes":"2012-06","valor":0.652,"tipo":"Vol. Baja"},{"mes":"2012-07","valor":0.629,"tipo":"Vol. Baja"},{"mes":"2012-08","valor":0.596,"tipo":"Vol. Baja"},{"mes":"2012-09","valor":0.577,"tipo":"Vol. Baja"},{"mes":"2012-10","valor":0.585,"tipo":"Vol. Baja"},{"mes":"2012-11","valor":0.591,"tipo":"Vol. Baja"},{"mes":"2012-12","valor":0.567,"tipo":"Vol. Baja"},
{"mes":"2013-01","valor":0.575,"tipo":"Vol. Baja"},{"mes":"2013-02","valor":0.584,"tipo":"Vol. Baja"},{"mes":"2013-03","valor":0.574,"tipo":"Vol. Baja"},{"mes":"2013-04","valor":0.563,"tipo":"Vol. Baja"},{"mes":"2013-05","valor":0.54,"tipo":"Vol. Baja"},{"mes":"2013-07","valor":0.483,"tipo":"Vol. Baja"},{"mes":"2013-08","valor":0.457,"tipo":"Vol. Baja"},{"mes":"2013-09","valor":0.438,"tipo":"Vol. Baja"},{"mes":"2013-10","valor":0.405,"tipo":"Vol. Baja"},{"mes":"2013-11","valor":0.40,"tipo":"Vol. Baja"},{"mes":"2013-12","valor":0.37,"tipo":"Vol. Baja"},
{"mes":"2014-01","valor":0.43,"tipo":"Vol. Baja"},{"mes":"2014-02","valor":0.457,"tipo":"Vol. Baja"},{"mes":"2014-03","valor":0.421,"tipo":"Vol. Baja"},{"mes":"2014-04","valor":0.355,"tipo":"Vol. Baja"},{"mes":"2014-05","valor":0.336,"tipo":"Vol. Baja"},{"mes":"2014-06","valor":0.335,"tipo":"Vol. Baja"},{"mes":"2014-07","valor":0.405,"tipo":"Vol. Baja"},{"mes":"2014-08","valor":0.439,"tipo":"Vol. Baja"},{"mes":"2014-09","valor":0.44,"tipo":"Vol. Baja"},{"mes":"2014-10","valor":0.421,"tipo":"Vol. Baja"},{"mes":"2014-11","valor":0.43,"tipo":"Vol. Baja"},{"mes":"2014-12","valor":0.446,"tipo":"Vol. Baja"},
{"mes":"2015-01","valor":0.45,"tipo":"Vol. Baja"},{"mes":"2015-02","valor":0.474,"tipo":"Vol. Baja"},{"mes":"2015-03","valor":0.45,"tipo":"Vol. Baja"},{"mes":"2015-04","valor":0.44,"tipo":"Vol. Baja"},{"mes":"2015-05","valor":0.423,"tipo":"Vol. Baja"},{"mes":"2015-06","valor":0.447,"tipo":"Vol. Baja"},{"mes":"2015-07","valor":0.421,"tipo":"Vol. Baja"},{"mes":"2015-08","valor":0.41,"tipo":"Vol. Baja"},{"mes":"2015-09","valor":0.402,"tipo":"Vol. Baja"},{"mes":"2015-10","valor":0.412,"tipo":"Vol. Baja"},{"mes":"2015-11","valor":0.40,"tipo":"Vol. Baja"},{"mes":"2015-12","valor":0.382,"tipo":"Vol. Baja"},
{"mes":"2016-01","valor":0.407,"tipo":"Vol. Baja"},{"mes":"2016-02","valor":0.41,"tipo":"Vol. Baja"},{"mes":"2016-03","valor":0.425,"tipo":"Vol. Baja"},{"mes":"2016-04","valor":0.425,"tipo":"Vol. Baja"},{"mes":"2016-05","valor":0.474,"tipo":"Vol. Baja"},{"mes":"2016-06","valor":0.485,"tipo":"Vol. Baja"},{"mes":"2016-07","valor":0.47,"tipo":"Vol. Baja"},{"mes":"2016-08","valor":0.455,"tipo":"Vol. Baja"},{"mes":"2016-09","valor":0.435,"tipo":"Vol. Baja"},{"mes":"2016-10","valor":0.41,"tipo":"Vol. Baja"},{"mes":"2016-11","valor":0.412,"tipo":"Vol. Baja"},{"mes":"2016-12","valor":0.407,"tipo":"Vol. Baja"},
{"mes":"2017-01","valor":0.38,"tipo":"Vol. Baja"},{"mes":"2017-02","valor":0.379,"tipo":"Vol. Baja"},{"mes":"2017-03","valor":0.379,"tipo":"Vol. Baja"},{"mes":"2017-04","valor":0.37,"tipo":"Vol. Baja"},{"mes":"2017-05","valor":0.45,"tipo":"Vol. Baja"},{"mes":"2017-06","valor":0.469,"tipo":"Vol. Baja"},{"mes":"2017-07","valor":0.412,"tipo":"Vol. Baja"},{"mes":"2017-08","valor":0.40,"tipo":"Vol. Baja"},{"mes":"2017-09","valor":0.396,"tipo":"Vol. Baja"},{"mes":"2017-10","valor":0.37,"tipo":"Vol. Baja"},{"mes":"2017-11","valor":0.372,"tipo":"Vol. Baja"},{"mes":"2017-12","valor":0.40,"tipo":"Vol. Baja"},
{"mes":"2018-01","valor":0.411,"tipo":"Vol. Baja"},{"mes":"2018-02","valor":0.419,"tipo":"Vol. Baja"},{"mes":"2018-03","valor":0.42,"tipo":"Vol. Baja"},{"mes":"2018-04","valor":0.425,"tipo":"Vol. Baja"},{"mes":"2018-05","valor":0.38,"tipo":"Vol. Baja"},{"mes":"2018-06","valor":0.372,"tipo":"Vol. Baja"},{"mes":"2018-07","valor":0.372,"tipo":"Vol. Baja"},{"mes":"2018-08","valor":0.385,"tipo":"Vol. Baja"},{"mes":"2018-09","valor":0.382,"tipo":"Vol. Baja"}
],
"vnm":[
{"mes":"1996-01","valor":0.864,"tipo":"Estándar"},{"mes":"1996-03","valor":0.845,"tipo":"Estándar"},{"mes":"1996-05","valor":0.845,"tipo":"Estándar"},{"mes":"1996-05","valor":0.598,"tipo":"Estándar"},{"mes":"1996-06","valor":0.538,"tipo":"Vol. Baja"},{"mes":"1996-07","valor":0.598,"tipo":"Vol. Baja"},{"mes":"1996-08","valor":0.845,"tipo":"Estándar"},{"mes":"1996-10","valor":0.635,"tipo":"Estándar"},{"mes":"1996-11","valor":0.848,"tipo":"Estándar"},{"mes":"1996-12","valor":0.837,"tipo":"Estándar"},
{"mes":"1997-01","valor":0.669,"tipo":"Estándar"},{"mes":"1997-02","valor":0.856,"tipo":"Estándar"},{"mes":"1997-04","valor":0.805,"tipo":"Vol. Baja"},{"mes":"1997-05","valor":0.754,"tipo":"Vol. Baja"},{"mes":"1997-06","valor":0.796,"tipo":"Vol. Baja"},{"mes":"1997-07","valor":0.822,"tipo":"Vol. Baja"},{"mes":"1997-08","valor":0.83,"tipo":"Vol. Baja"},{"mes":"1997-09","valor":0.873,"tipo":"Vol. Baja"},{"mes":"1997-10","valor":0.85,"tipo":"Vol. Baja"},{"mes":"1997-11","valor":0.841,"tipo":"Vol. Baja"},{"mes":"1997-12","valor":0.924,"tipo":"Vol. Baja"},
{"mes":"1998-01","valor":0.68,"tipo":"Estándar"},{"mes":"1998-02","valor":0.871,"tipo":"Estándar"},{"mes":"1998-03","valor":0.918,"tipo":"Vol. Baja"},{"mes":"1998-04","valor":0.958,"tipo":"Vol. Baja"},{"mes":"1998-05","valor":0.975,"tipo":"Vol. Baja"},{"mes":"1998-06","valor":0.987,"tipo":"Vol. Baja"},{"mes":"1998-07","valor":0.76,"tipo":"Estándar"},{"mes":"1998-07","valor":0.975,"tipo":"Vol. Baja"},{"mes":"1998-08","valor":1.004,"tipo":"Estándar"},{"mes":"1998-10","valor":0.743,"tipo":"Estándar"},{"mes":"1998-11","valor":0.95,"tipo":"Estándar"},{"mes":"1998-12","valor":0.682,"tipo":"Estándar"},
{"mes":"1999-01","valor":0.859,"tipo":"Estándar"},{"mes":"1999-03","valor":0.859,"tipo":"Vol. Baja"},{"mes":"1999-04","valor":0.855,"tipo":"Vol. Baja"},{"mes":"1999-05","valor":0.85,"tipo":"Vol. Baja"},{"mes":"1999-06","valor":0.682,"tipo":"Estándar"},{"mes":"1999-07","valor":0.882,"tipo":"Estándar"},{"mes":"1999-08","valor":0.884,"tipo":"Vol. Baja"},{"mes":"1999-09","valor":0.87,"tipo":"Vol. Baja"},{"mes":"1999-10","valor":0.822,"tipo":"Vol. Baja"},{"mes":"1999-11","valor":0.88,"tipo":"Vol. Baja"},{"mes":"1999-12","valor":0.924,"tipo":"Vol. Baja"},
{"mes":"2000-01","valor":0.862,"tipo":"Vol. Baja"},{"mes":"2000-03","valor":0.822,"tipo":"Vol. Baja"},{"mes":"2000-04","valor":0.743,"tipo":"Estándar"},{"mes":"2000-05","valor":0.544,"tipo":"Estándar"},{"mes":"2000-06","valor":0.78,"tipo":"Estándar"},{"mes":"2000-07","valor":0.816,"tipo":"Estándar"},{"mes":"2000-08","valor":0.626,"tipo":"Estándar"},{"mes":"2000-09","valor":0.814,"tipo":"Estándar"},{"mes":"2000-10","valor":0.796,"tipo":"Estándar"},{"mes":"2000-12","valor":0.757,"tipo":"Vol. Baja"},
{"mes":"2001-01","valor":0.703,"tipo":"Vol. Baja"},{"mes":"2001-03","valor":0.686,"tipo":"Vol. Baja"},{"mes":"2001-04","valor":0.646,"tipo":"Vol. Baja"},{"mes":"2001-05","valor":0.626,"tipo":"Vol. Baja"},{"mes":"2001-06","valor":0.64,"tipo":"Vol. Baja"},{"mes":"2001-07","valor":0.714,"tipo":"Estándar"},{"mes":"2001-08","valor":0.83,"tipo":"Estándar"},{"mes":"2001-10","valor":0.867,"tipo":"Vol. Baja"},{"mes":"2001-11","valor":0.939,"tipo":"Vol. Baja"},{"mes":"2001-12","valor":0.93,"tipo":"Vol. Baja"},
{"mes":"2002-01","valor":0.918,"tipo":"Vol. Baja"},{"mes":"2002-02","valor":0.91,"tipo":"Vol. Baja"},{"mes":"2002-03","valor":0.85,"tipo":"Vol. Baja"},{"mes":"2002-04","valor":0.907,"tipo":"Vol. Baja"},{"mes":"2002-05","valor":0.91,"tipo":"Vol. Baja"},{"mes":"2002-06","valor":0.918,"tipo":"Vol. Baja"},{"mes":"2002-07","valor":0.92,"tipo":"Vol. Baja"},{"mes":"2002-08","valor":0.924,"tipo":"Vol. Baja"},{"mes":"2002-09","valor":0.896,"tipo":"Vol. Baja"},{"mes":"2002-10","valor":0.88,"tipo":"Vol. Baja"},{"mes":"2002-11","valor":0.867,"tipo":"Vol. Baja"},{"mes":"2002-12","valor":0.85,"tipo":"Vol. Baja"},
{"mes":"2003-01","valor":0.83,"tipo":"Vol. Baja"},{"mes":"2003-02","valor":0.822,"tipo":"Vol. Baja"},{"mes":"2003-03","valor":0.819,"tipo":"Vol. Baja"},{"mes":"2003-04","valor":0.81,"tipo":"Vol. Baja"},{"mes":"2003-05","valor":0.805,"tipo":"Vol. Baja"},{"mes":"2003-06","valor":0.796,"tipo":"Vol. Baja"},{"mes":"2003-07","valor":0.78,"tipo":"Vol. Baja"},{"mes":"2003-08","valor":0.771,"tipo":"Vol. Baja"},{"mes":"2003-09","valor":0.78,"tipo":"Vol. Baja"},{"mes":"2003-10","valor":0.80,"tipo":"Vol. Baja"},{"mes":"2003-11","valor":0.822,"tipo":"Vol. Baja"},{"mes":"2003-12","valor":0.83,"tipo":"Vol. Baja"},
{"mes":"2004-01","valor":0.777,"tipo":"Estándar"},{"mes":"2004-02","valor":0.788,"tipo":"Vol. Baja"},{"mes":"2004-03","valor":0.85,"tipo":"Estándar"},{"mes":"2004-04","valor":0.867,"tipo":"Vol. Baja"},{"mes":"2004-05","valor":0.839,"tipo":"Vol. Baja"},{"mes":"2004-06","valor":0.84,"tipo":"Vol. Baja"},{"mes":"2004-07","valor":0.845,"tipo":"Vol. Baja"},{"mes":"2004-08","valor":0.835,"tipo":"Vol. Baja"},{"mes":"2004-09","valor":0.825,"tipo":"Vol. Baja"},{"mes":"2004-10","valor":0.83,"tipo":"Vol. Baja"},{"mes":"2004-11","valor":0.835,"tipo":"Vol. Baja"},{"mes":"2004-12","valor":0.837,"tipo":"Vol. Baja"},
{"mes":"2005-01","valor":0.85,"tipo":"Vol. Baja"},{"mes":"2005-02","valor":0.873,"tipo":"Vol. Baja"},{"mes":"2005-03","valor":0.85,"tipo":"Vol. Baja"},{"mes":"2005-04","valor":0.83,"tipo":"Vol. Baja"},{"mes":"2005-05","valor":0.82,"tipo":"Vol. Baja"},{"mes":"2005-06","valor":0.816,"tipo":"Vol. Baja"},{"mes":"2005-07","valor":0.85,"tipo":"Vol. Baja"},{"mes":"2005-08","valor":0.896,"tipo":"Vol. Baja"},{"mes":"2005-09","valor":0.90,"tipo":"Vol. Baja"},{"mes":"2005-10","valor":0.907,"tipo":"Vol. Baja"},{"mes":"2005-11","valor":0.89,"tipo":"Vol. Baja"},{"mes":"2005-12","valor":0.88,"tipo":"Vol. Baja"},
{"mes":"2006-01","valor":0.879,"tipo":"Vol. Baja"},{"mes":"2006-02","valor":0.807,"tipo":"Vol. Baja"},{"mes":"2006-03","valor":0.79,"tipo":"Vol. Baja"},{"mes":"2006-04","valor":0.771,"tipo":"Vol. Baja"},{"mes":"2006-05","valor":0.833,"tipo":"Vol. Baja"},{"mes":"2006-06","valor":0.84,"tipo":"Vol. Baja"},{"mes":"2006-07","valor":0.85,"tipo":"Vol. Baja"},{"mes":"2006-08","valor":0.856,"tipo":"Vol. Baja"},{"mes":"2006-09","valor":0.87,"tipo":"Vol. Baja"},{"mes":"2006-10","valor":0.907,"tipo":"Vol. Baja"},{"mes":"2006-11","valor":0.90,"tipo":"Vol. Baja"},{"mes":"2006-12","valor":0.846,"tipo":"Estándar"},{"mes":"2006-12","valor":0.907,"tipo":"Vol. Baja"},
{"mes":"2007-02","valor":0.86,"tipo":"Vol. Baja"},{"mes":"2007-03","valor":0.85,"tipo":"Vol. Baja"},{"mes":"2007-04","valor":0.848,"tipo":"Vol. Baja"},{"mes":"2007-05","valor":0.845,"tipo":"Vol. Baja"},{"mes":"2007-06","valor":0.845,"tipo":"Vol. Baja"},{"mes":"2007-07","valor":0.85,"tipo":"Vol. Baja"},{"mes":"2007-08","valor":0.85,"tipo":"Vol. Baja"},{"mes":"2007-09","valor":0.853,"tipo":"Vol. Baja"},{"mes":"2007-10","valor":0.86,"tipo":"Vol. Baja"},{"mes":"2007-11","valor":0.87,"tipo":"Vol. Baja"},{"mes":"2007-12","valor":0.88,"tipo":"Vol. Baja"},
{"mes":"2008-01","valor":0.898,"tipo":"Vol. Baja"},{"mes":"2008-02","valor":0.953,"tipo":"Estándar"},{"mes":"2008-03","valor":0.978,"tipo":"Estándar"},{"mes":"2008-05","valor":1.168,"tipo":"Estándar"},{"mes":"2008-06","valor":1.086,"tipo":"Estándar"},{"mes":"2008-07","valor":0.975,"tipo":"Vol. Baja"},{"mes":"2008-08","valor":0.841,"tipo":"Vol. Baja"},{"mes":"2008-09","valor":0.82,"tipo":"Vol. Baja"},{"mes":"2008-10","valor":0.757,"tipo":"Estándar"},{"mes":"2008-11","valor":0.712,"tipo":"Estándar"},{"mes":"2008-12","valor":0.791,"tipo":"Estándar"},
{"mes":"2009-01","valor":0.716,"tipo":"Estándar"},{"mes":"2009-04","valor":0.85,"tipo":"Vol. Baja"},{"mes":"2009-06","valor":0.762,"tipo":"Estándar"},{"mes":"2009-07","valor":0.771,"tipo":"Vol. Baja"},{"mes":"2009-08","valor":0.739,"tipo":"Vol. Baja"},{"mes":"2009-09","valor":0.716,"tipo":"Vol. Baja"},{"mes":"2009-10","valor":0.75,"tipo":"Vol. Baja"},{"mes":"2009-11","valor":0.853,"tipo":"Estándar"},
{"mes":"2010-01","valor":0.803,"tipo":"Estándar"},{"mes":"2010-02","valor":0.714,"tipo":"Vol. Baja"},{"mes":"2010-03","valor":0.671,"tipo":"Vol. Baja"},{"mes":"2010-04","valor":0.635,"tipo":"Vol. Baja"},{"mes":"2010-05","valor":0.67,"tipo":"Vol. Baja"},{"mes":"2010-06","valor":0.731,"tipo":"Vol. Baja"},{"mes":"2010-07","valor":0.74,"tipo":"Vol. Baja"},{"mes":"2010-08","valor":0.856,"tipo":"Estándar"},{"mes":"2010-09","valor":0.898,"tipo":"Vol. Baja"},{"mes":"2010-10","valor":0.89,"tipo":"Vol. Baja"},{"mes":"2010-11","valor":0.887,"tipo":"Vol. Baja"},{"mes":"2010-12","valor":0.87,"tipo":"Vol. Baja"},
{"mes":"2011-01","valor":0.875,"tipo":"Vol. Baja"},{"mes":"2011-02","valor":0.864,"tipo":"Vol. Baja"},{"mes":"2011-03","valor":0.90,"tipo":"Vol. Baja"},{"mes":"2011-04","valor":0.913,"tipo":"Vol. Baja"},{"mes":"2011-05","valor":0.92,"tipo":"Vol. Baja"},{"mes":"2011-06","valor":0.924,"tipo":"Vol. Baja"},{"mes":"2011-07","valor":0.93,"tipo":"Vol. Baja"},{"mes":"2011-08","valor":0.96,"tipo":"Vol. Baja"},{"mes":"2011-09","valor":0.975,"tipo":"Vol. Baja"},{"mes":"2011-10","valor":0.96,"tipo":"Vol. Baja"},{"mes":"2011-11","valor":0.95,"tipo":"Vol. Baja"},{"mes":"2011-12","valor":0.894,"tipo":"Vol. Baja"},
{"mes":"2012-01","valor":0.848,"tipo":"Vol. Baja"},{"mes":"2012-02","valor":0.816,"tipo":"Vol. Baja"},{"mes":"2012-03","valor":0.80,"tipo":"Vol. Baja"},{"mes":"2012-04","valor":0.782,"tipo":"Vol. Baja"},{"mes":"2012-05","valor":0.77,"tipo":"Vol. Baja"},{"mes":"2012-06","valor":0.748,"tipo":"Vol. Baja"},{"mes":"2012-07","valor":0.77,"tipo":"Vol. Baja"},{"mes":"2012-08","valor":0.782,"tipo":"Vol. Baja"},{"mes":"2012-09","valor":0.80,"tipo":"Vol. Baja"},{"mes":"2012-10","valor":0.825,"tipo":"Vol. Baja"},{"mes":"2012-11","valor":0.80,"tipo":"Vol. Baja"},{"mes":"2012-12","valor":0.762,"tipo":"Vol. Baja"},
{"mes":"2013-01","valor":0.74,"tipo":"Vol. Baja"},{"mes":"2013-02","valor":0.728,"tipo":"Vol. Baja"},{"mes":"2013-03","valor":0.694,"tipo":"Vol. Baja"},{"mes":"2013-04","valor":0.684,"tipo":"Vol. Baja"},{"mes":"2013-05","valor":0.674,"tipo":"Vol. Baja"},{"mes":"2013-06","valor":0.72,"tipo":"Vol. Baja"},{"mes":"2013-07","valor":0.771,"tipo":"Vol. Baja"},{"mes":"2013-08","valor":0.743,"tipo":"Vol. Baja"},{"mes":"2013-09","valor":0.78,"tipo":"Vol. Baja"},{"mes":"2013-10","valor":0.822,"tipo":"Vol. Baja"},{"mes":"2013-11","valor":0.85,"tipo":"Vol. Baja"},{"mes":"2013-12","valor":0.887,"tipo":"Vol. Baja"},
{"mes":"2014-01","valor":0.86,"tipo":"Vol. Baja"},{"mes":"2014-02","valor":0.845,"tipo":"Vol. Baja"},{"mes":"2014-03","valor":0.84,"tipo":"Vol. Baja"},{"mes":"2014-04","valor":0.848,"tipo":"Vol. Baja"},{"mes":"2014-05","valor":0.86,"tipo":"Vol. Baja"},{"mes":"2014-06","valor":0.873,"tipo":"Vol. Baja"},{"mes":"2014-07","valor":0.901,"tipo":"Vol. Baja"},{"mes":"2014-08","valor":0.91,"tipo":"Vol. Baja"},{"mes":"2014-09","valor":0.916,"tipo":"Vol. Baja"},{"mes":"2014-10","valor":0.90,"tipo":"Vol. Baja"},{"mes":"2014-11","valor":0.89,"tipo":"Vol. Baja"},{"mes":"2014-12","valor":0.85,"tipo":"Vol. Baja"},
{"mes":"2015-01","valor":0.83,"tipo":"Vol. Baja"},{"mes":"2015-02","valor":0.816,"tipo":"Vol. Baja"},{"mes":"2015-03","valor":0.788,"tipo":"Vol. Baja"},{"mes":"2015-04","valor":0.80,"tipo":"Vol. Baja"},{"mes":"2015-05","valor":0.805,"tipo":"Vol. Baja"},{"mes":"2015-06","valor":0.80,"tipo":"Vol. Baja"},{"mes":"2015-07","valor":0.79,"tipo":"Vol. Baja"},{"mes":"2015-08","valor":0.769,"tipo":"Vol. Baja"},{"mes":"2015-09","valor":0.85,"tipo":"Vol. Baja"},{"mes":"2015-10","valor":0.87,"tipo":"Vol. Baja"},{"mes":"2015-11","valor":0.884,"tipo":"Vol. Baja"},{"mes":"2015-12","valor":0.87,"tipo":"Vol. Baja"},
{"mes":"2016-01","valor":0.856,"tipo":"Vol. Baja"},{"mes":"2016-02","valor":0.85,"tipo":"Vol. Baja"},{"mes":"2016-03","valor":0.864,"tipo":"Vol. Baja"},{"mes":"2016-04","valor":0.839,"tipo":"Vol. Baja"},{"mes":"2016-05","valor":0.83,"tipo":"Vol. Baja"},{"mes":"2016-06","valor":0.819,"tipo":"Vol. Baja"},{"mes":"2016-07","valor":0.80,"tipo":"Vol. Baja"},{"mes":"2016-08","valor":0.794,"tipo":"Vol. Baja"},{"mes":"2016-09","valor":0.81,"tipo":"Vol. Baja"},{"mes":"2016-10","valor":0.85,"tipo":"Vol. Baja"},{"mes":"2016-11","valor":0.879,"tipo":"Vol. Baja"},{"mes":"2016-12","valor":0.796,"tipo":"Estándar"},
{"mes":"2017-01","valor":0.822,"tipo":"Vol. Baja"},{"mes":"2017-02","valor":0.82,"tipo":"Vol. Baja"},{"mes":"2017-03","valor":0.819,"tipo":"Vol. Baja"},{"mes":"2017-04","valor":0.80,"tipo":"Vol. Baja"},{"mes":"2017-05","valor":0.791,"tipo":"Vol. Baja"},{"mes":"2017-06","valor":0.811,"tipo":"Estándar"},{"mes":"2017-07","valor":0.875,"tipo":"Estándar"},{"mes":"2017-07","valor":0.83,"tipo":"Vol. Baja"},{"mes":"2017-08","valor":0.84,"tipo":"Vol. Baja"},{"mes":"2017-09","valor":0.845,"tipo":"Vol. Baja"},{"mes":"2017-10","valor":0.85,"tipo":"Vol. Baja"},{"mes":"2017-11","valor":0.856,"tipo":"Vol. Baja"},{"mes":"2017-12","valor":0.86,"tipo":"Vol. Baja"},
{"mes":"2018-01","valor":0.873,"tipo":"Vol. Baja"},{"mes":"2018-02","valor":0.88,"tipo":"Vol. Baja"},{"mes":"2018-03","valor":0.887,"tipo":"Vol. Baja"},{"mes":"2018-04","valor":0.90,"tipo":"Vol. Baja"},{"mes":"2018-05","valor":0.91,"tipo":"Vol. Baja"},{"mes":"2018-06","valor":0.919,"tipo":"Vol. Baja"},{"mes":"2018-07","valor":0.887,"tipo":"Vol. Baja"},{"mes":"2018-08","valor":0.87,"tipo":"Vol. Baja"},{"mes":"2018-09","valor":0.856,"tipo":"Vol. Baja"}
]
},
"spacing":28,
"resolve":{"scale":{"color":"independent","shape":"independent"},"legend":{"color":"independent","shape":"independent"}},
"vconcat":[
{"hconcat":[
 {"title":"Colombia","width":451,"height":254,
  "data":{"name":"col","format":{"parse":{"mes":"utc:'%Y-%m'"}}},
  "mark":{"type":"point","filled":true,"opacity":1,"strokeWidth":0},
  "encoding":{
   "x":{"field":"mes","type":"temporal","title":null,"scale":{"type":"utc","domain":[{"year":1995,"month":6,"date":1,"utc":true},{"year":2019,"month":3,"date":21,"utc":true}]},
    "axis":{"values":[{"year":1996,"month":1,"date":1,"utc":true},{"year":2001,"month":1,"date":1,"utc":true},{"year":2006,"month":1,"date":1,"utc":true},{"year":2011,"month":1,"date":1,"utc":true},{"year":2016,"month":1,"date":1,"utc":true},{"year":2018,"month":9,"date":1,"utc":true}],"labelExpr":"utcyear(datum.value) == 2018 ? '' : utcFormat(datum.value, '%Y-%m')"}},
   "y":{"field":"valor","type":"quantitative","title":null,"scale":{"domain":[0.7575,1.837],"nice":false,"zero":false},
    "axis":{"values":[0.8,1,1.2,1.4,1.6,1.8],"labelExpr":"replace(replace(format(datum.value, '.1~f'), '0.', ','), '.', ',')"}},
   "color":{"field":"tipo","type":"nominal","scale":{"domain":["Vol. Baja","Estándar","Vol. Alta"],"range":["#c0c0c0","#737373","#474747"]},
    "legend":{"title":null,"orient":"none","legendX":84,"legendY":299,"direction":"horizontal","labelFontSize":10,"labelFont":"Liberation Sans","symbolSize":90,"columnPadding":45,"labelOffset":12,"symbolOpacity":1,"symbolStrokeWidth":0}},
   "shape":{"field":"tipo","type":"nominal","scale":{"domain":["Vol. Baja","Estándar","Vol. Alta"],"range":["circle","triangle-up","square"]},
    "legend":{"title":null,"orient":"none","legendX":84,"legendY":299,"direction":"horizontal","labelFontSize":10,"labelFont":"Liberation Sans","symbolSize":90,"columnPadding":45,"labelOffset":12,"symbolOpacity":1,"symbolStrokeWidth":0}},
   "size":{"condition":[{"test":"datum.tipo === 'Estándar'","value":72},{"test":"datum.tipo === 'Vol. Alta'","value":38}],"value":52},
   "order":{"field":"tipo","sort":"descending"}
  }},
 {"title":"EE.UU.","width":445,"height":254,
  "data":{"name":"usa","format":{"parse":{"mes":"utc:'%Y-%m'"}}},
  "mark":{"type":"point","filled":true,"opacity":1,"strokeWidth":0},
  "encoding":{
   "x":{"field":"mes","type":"temporal","title":null,"scale":{"type":"utc","domain":[{"year":1995,"month":6,"date":1,"utc":true},{"year":2018,"month":11,"date":28,"utc":true}]},
    "axis":{"values":[{"year":1996,"month":1,"date":1,"utc":true},{"year":2001,"month":1,"date":1,"utc":true},{"year":2006,"month":1,"date":1,"utc":true},{"year":2011,"month":1,"date":1,"utc":true},{"year":2016,"month":1,"date":1,"utc":true}],"labelExpr":"utcFormat(datum.value, '%Y-%m')"}},
   "y":{"field":"valor","type":"quantitative","title":null,"scale":{"domain":[0.974,1.631],"nice":false,"zero":false},
    "axis":{"values":[1,1.2,1.4,1.6],"labelExpr":"replace(replace(format(datum.value, '.1~f'), '0.', ','), '.', ',')"}},
   "color":{"field":"tipo","type":"nominal","scale":{"domain":["Vol. Baja","Estándar"],"range":["#c0c0c0","#737373"]},
    "legend":{"title":null,"orient":"none","legendX":145,"legendY":299,"direction":"horizontal","labelFontSize":10,"labelFont":"Liberation Sans","symbolSize":90,"columnPadding":40,"labelOffset":12,"symbolOpacity":1,"symbolStrokeWidth":0}},
   "shape":{"field":"tipo","type":"nominal","scale":{"domain":["Vol. Baja","Estándar"],"range":["circle","triangle-up"]},
    "legend":{"title":null,"orient":"none","legendX":145,"legendY":299,"direction":"horizontal","labelFontSize":10,"labelFont":"Liberation Sans","symbolSize":90,"columnPadding":40,"labelOffset":12,"symbolOpacity":1,"symbolStrokeWidth":0}},
   "size":{"condition":[{"test":"datum.tipo === 'Estándar'","value":72}],"value":52},
   "order":{"field":"tipo","sort":"descending"}
  }}
 ],"spacing":20,
 "resolve":{"scale":{"color":"independent","shape":"independent"},"legend":{"color":"independent","shape":"independent"}}},
{"hconcat":[
 {"title":"Tailandia","width":451,"height":256,
  "data":{"name":"tha","format":{"parse":{"mes":"utc:'%Y-%m'"}}},
  "mark":{"type":"point","filled":true,"opacity":1,"strokeWidth":0},
  "encoding":{
   "x":{"field":"mes","type":"temporal","title":null,"scale":{"type":"utc","domain":[{"year":1995,"month":6,"date":1,"utc":true},{"year":2019,"month":3,"date":21,"utc":true}]},
    "axis":{"values":[{"year":1996,"month":1,"date":1,"utc":true},{"year":2001,"month":1,"date":1,"utc":true},{"year":2006,"month":1,"date":1,"utc":true},{"year":2011,"month":1,"date":1,"utc":true},{"year":2016,"month":1,"date":1,"utc":true}],"labelExpr":"utcFormat(datum.value, '%Y-%m')"}},
   "y":{"field":"valor","type":"quantitative","title":null,"scale":{"domain":[0.1788,0.7227],"nice":false,"zero":false},
    "axis":{"values":[0.2,0.3,0.4,0.5,0.6,0.7],"labelExpr":"replace(replace(format(datum.value, '.1~f'), '0.', ','), '.', ',')"}},
   "color":{"field":"tipo","type":"nominal","scale":{"domain":["Vol. Baja","Estándar"],"range":["#c0c0c0","#737373"]},
    "legend":{"title":null,"orient":"none","legendX":141,"legendY":297,"direction":"horizontal","labelFontSize":10,"labelFont":"Liberation Sans","symbolSize":90,"columnPadding":40,"labelOffset":12,"symbolOpacity":1,"symbolStrokeWidth":0}},
   "shape":{"field":"tipo","type":"nominal","scale":{"domain":["Vol. Baja","Estándar"],"range":["circle","triangle-up"]},
    "legend":{"title":null,"orient":"none","legendX":141,"legendY":297,"direction":"horizontal","labelFontSize":10,"labelFont":"Liberation Sans","symbolSize":90,"columnPadding":40,"labelOffset":12,"symbolOpacity":1,"symbolStrokeWidth":0}},
   "size":{"condition":[{"test":"datum.tipo === 'Estándar'","value":72}],"value":52},
   "order":{"field":"tipo","sort":"descending"}
  }},
 {"title":"Vietnam","width":445,"height":256,
  "data":{"name":"vnm","format":{"parse":{"mes":"utc:'%Y-%m'"}}},
  "mark":{"type":"point","filled":true,"opacity":1,"strokeWidth":0},
  "encoding":{
   "x":{"field":"mes","type":"temporal","title":null,"scale":{"type":"utc","domain":[{"year":1995,"month":6,"date":1,"utc":true},{"year":2018,"month":11,"date":28,"utc":true}]},
    "axis":{"values":[{"year":1996,"month":1,"date":1,"utc":true},{"year":2001,"month":1,"date":1,"utc":true},{"year":2006,"month":1,"date":1,"utc":true},{"year":2011,"month":1,"date":1,"utc":true},{"year":2016,"month":1,"date":1,"utc":true}],"labelExpr":"utcFormat(datum.value, '%Y-%m')"}},
   "y":{"field":"valor","type":"quantitative","title":null,"scale":{"domain":[0.366,1.2365],"nice":false,"zero":false},
    "axis":{"values":[0.4,0.6,0.8,1,1.2],"labelExpr":"replace(replace(format(datum.value, '.1~f'), '0.', ','), '.', ',')"}},
   "color":{"field":"tipo","type":"nominal","scale":{"domain":["Vol. Baja","Estándar"],"range":["#c0c0c0","#737373"]},
    "legend":{"title":null,"orient":"none","legendX":145,"legendY":297,"direction":"horizontal","labelFontSize":10,"labelFont":"Liberation Sans","symbolSize":90,"columnPadding":40,"labelOffset":12,"symbolOpacity":1,"symbolStrokeWidth":0}},
   "shape":{"field":"tipo","type":"nominal","scale":{"domain":["Vol. Baja","Estándar"],"range":["circle","triangle-up"]},
    "legend":{"title":null,"orient":"none","legendX":145,"legendY":297,"direction":"horizontal","labelFontSize":10,"labelFont":"Liberation Sans","symbolSize":90,"columnPadding":40,"labelOffset":12,"symbolOpacity":1,"symbolStrokeWidth":0}},
   "size":{"condition":[{"test":"datum.tipo === 'Estándar'","value":72}],"value":52},
   "order":{"field":"tipo","sort":"descending"}
  }}
 ],"spacing":20,
 "resolve":{"scale":{"color":"independent","shape":"independent"},"legend":{"color":"independent","shape":"independent"}}}
]
}
